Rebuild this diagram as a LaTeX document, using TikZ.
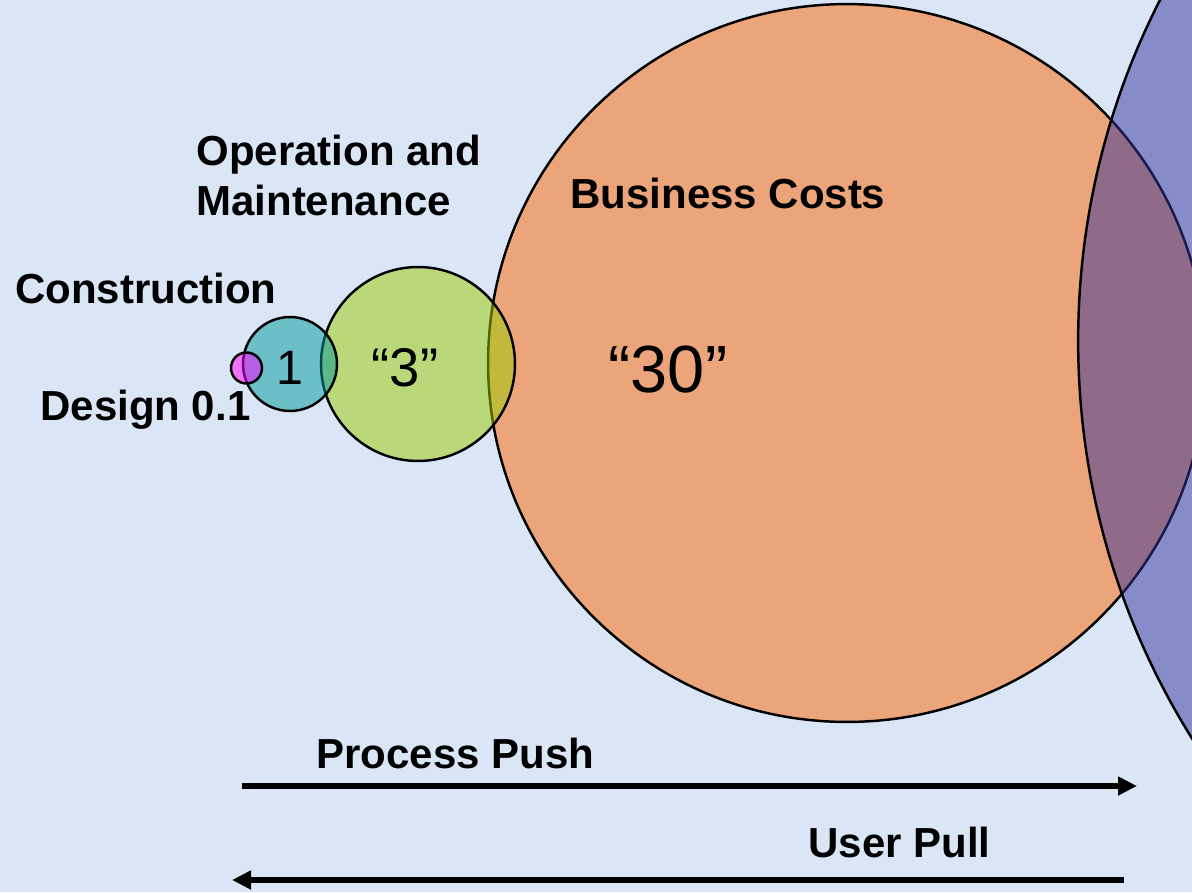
\documentclass[tikz,border=0pt]{standalone}
\usepackage{fontspec}
\setmainfont{Liberation Sans}
\usepackage{xcolor}
\usetikzlibrary{arrows.meta, positioning}
\definecolor{bgblue}{HTML}{DAE6F6}
\definecolor{designc}{HTML}{FF00FF}
\definecolor{constc}{HTML}{009999}
\definecolor{operc}{HTML}{99CC00}
\definecolor{busc}{HTML}{FF6600}
\definecolor{userc}{HTML}{333399}
\tikzset{
  bubble/.style={circle, draw=black, line width=1.4pt, fill opacity=0.5, draw opacity=1, inner sep=0pt},
  phase/.style={anchor=base west, inner sep=0pt, font=\fontsize{23.9}{28.3}\selectfont\bfseries, align=left},
  cost/.style={anchor=base, inner sep=0pt},
  arrow/.style={-{Triangle[length=0.38cm, width=0.36cm]}, line width=3.3pt},
}

\begin{document}
\begin{tikzpicture}[x=0.02cm, y=-0.02cm]
  % Canvas
  \useasboundingbox (0,0) rectangle (1192,892);
  \fill[bgblue] (0,0) rectangle (1192,892);
  \clip (0,0) rectangle (1192,892);

  % Cost circles (largest first)
  \node[bubble, fill=busc, minimum size=14.36cm] (business) at (847,363) {};
  \node[bubble, fill=operc, minimum size=3.88cm] (operation) at (418,364) {};
  \node[bubble, fill=constc, minimum size=1.88cm] (construction) at (290,364) {};
  \node[bubble, fill=designc, minimum size=0.62cm] (design) at (246.5,368) {};
  \node[bubble, fill=userc, minimum size=30cm] (user) at (1828,341) {};

  % Cost values
  \node[cost, font=\fontsize{27.5}{30}\selectfont] (constval) at (290,384) {1};
  \node[cost, font=\fontsize{31}{34}\selectfont] (operval) at (405,386) {“3”};
  \node[cost, font=\fontsize{38}{42}\selectfont] (busval) at (668,392) {“30”};

  % Phase labels
  \node[phase] (operlabel) at (196,215) {Operation and\\Maintenance};
  \node[phase] (constlabel) at (15,303) {Construction};
  \node[phase] (designlabel) at (40,420) {Design 0.1};
  \node[phase] (buslabel) at (570,208) {Business Costs};

  % Push and pull
  \node[phase] (pushlabel) at (316,768) {Process Push};
  \node[phase] (pulllabel) at (808,857) {User Pull};
  \coordinate (pushstart) at (242,786);
  \coordinate (pushend) at (1137,786);
  \coordinate (pullstart) at (1124,880);
  \coordinate (pullend) at (232,880);
  \draw[arrow] (pushstart) -- (pushend);
  \draw[arrow] (pullstart) -- (pullend);
\end{tikzpicture}
\end{document}
